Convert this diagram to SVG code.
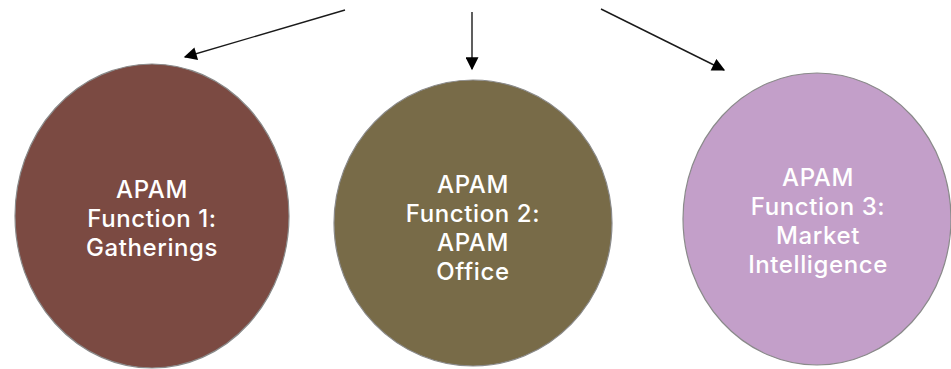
<svg xmlns="http://www.w3.org/2000/svg" width="951" height="369" viewBox="0 0 951 369">
<style>
.node{stroke:#8a8a8a;stroke-width:1.2}
.lbl{font-family:Inter,"Liberation Sans",Arial,sans-serif;font-size:24px;font-weight:500;fill:#ffffff;text-anchor:middle;letter-spacing:0.6px}
.conn{stroke:#1a1a1a;stroke-width:1.4;fill:none}
</style>
<defs>
<marker id="ahb" viewBox="0 0 10 10" refX="9" refY="5" markerWidth="14" markerHeight="13" markerUnits="userSpaceOnUse" orient="auto">
<path d="M0,0 L10,5 L0,10 z" fill="#000"/>
</marker>
</defs>
<g id="connectors">
<line class="conn" x1="345" y1="10" x2="185" y2="57" marker-end="url(#ahb)"/>
<line class="conn" x1="472" y1="12" x2="472" y2="69" marker-end="url(#ahb)"/>
<line class="conn" x1="601" y1="9" x2="724" y2="70" marker-end="url(#ahb)"/>
</g>
<g id="node1">
<ellipse class="node" cx="152" cy="216" rx="137" ry="152" fill="#7b4a42"/>
<text class="lbl" x="152" y="198">APAM</text>
<text class="lbl" x="152" y="227">Function 1:</text>
<text class="lbl" x="152" y="256">Gatherings</text>
</g>
<g id="node2">
<ellipse class="node" cx="473" cy="223" rx="139" ry="143" fill="#786b48"/>
<text class="lbl" x="473" y="193">APAM</text>
<text class="lbl" x="473" y="222">Function 2:</text>
<text class="lbl" x="473" y="251">APAM</text>
<text class="lbl" x="473" y="280">Office</text>
</g>
<g id="node3">
<ellipse class="node" cx="817" cy="219" rx="134" ry="146" fill="#c39fc9"/>
<text class="lbl" x="818" y="186">APAM</text>
<text class="lbl" x="818" y="215">Function 3:</text>
<text class="lbl" x="818" y="244">Market</text>
<text class="lbl" x="818" y="273">Intelligence</text>
</g>
</svg>
